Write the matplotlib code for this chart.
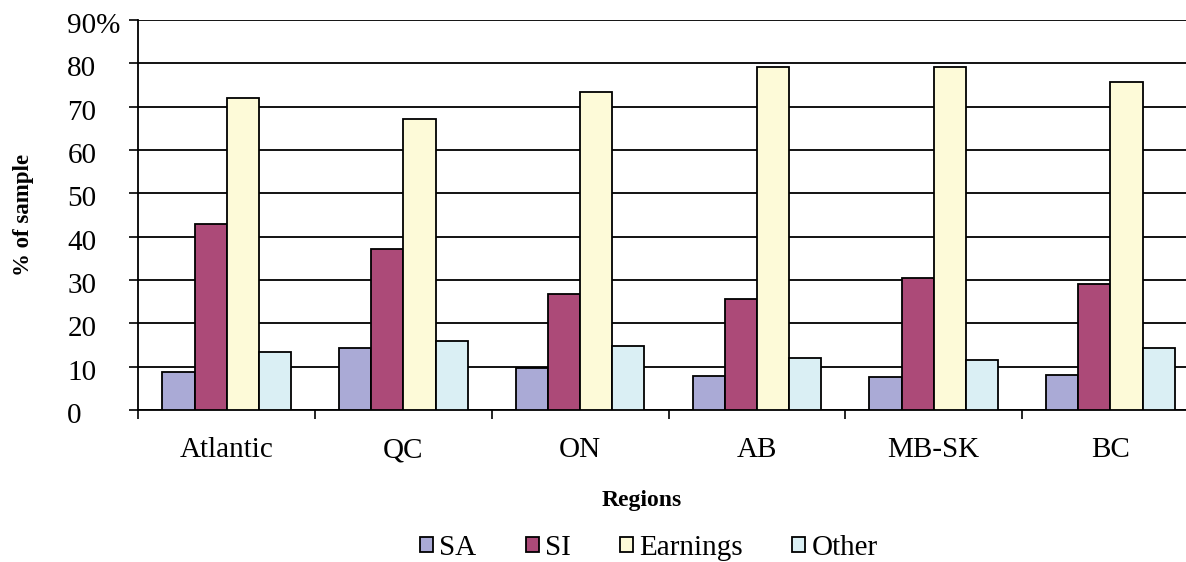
import numpy as np
import matplotlib
matplotlib.use('Agg')
import matplotlib.pyplot as plt
import matplotlib.transforms as mtransforms
from matplotlib.patches import Patch

plt.rcParams['font.family'] = ['Liberation Serif', 'DejaVu Serif']

regions = ['Atlantic', 'QC', 'ON', 'AB', 'MB-SK', 'BC']
series = ['SA', 'SI', 'Earnings', 'Other']
sa = [8.8, 14.2, 9.7, 7.9, 7.5, 8.0]
si = [43.0, 37.1, 26.8, 25.5, 30.4, 29.0]
earnings = [72.0, 67.2, 73.4, 79.2, 79.2, 75.7]
other = [13.3, 16.0, 14.8, 12.0, 11.5, 14.2]
colors = ['#AAAAD6', '#AC4A78', '#FDFAD8', '#DAEFF4']
ytick_labels = ['0', '10', '20', '30', '40', '50', '60', '70', '80', '90%']

fig = plt.figure(figsize=(11.86, 5.62), dpi=100)
ax = fig.add_axes([0.1166, 0.2705, 0.8942, 0.6940])

# excel-style grouping: 4 bars + 1.5 bar gap per category
w = 1 / 5.5
centers = np.arange(len(regions)) + 0.5
for j, vals in enumerate([sa, si, earnings, other]):
    ax.bar(centers + (j - 1.5) * w, vals, width=w, color=colors[j],
           edgecolor='black', linewidth=1.3, zorder=3)

ax.set_xlim(0, len(regions))
ax.set_ylim(0, 90)
ax.set_yticks(np.arange(0, 91, 10))
ax.set_yticklabels(ytick_labels, ha='left', fontsize=21)
ax.yaxis.grid(True, color='black', linewidth=1.3, zorder=0)
ax.tick_params(axis='y', direction='out', length=6.5, width=1.2, pad=44.6)

ax.set_xticks(np.arange(len(regions) + 1))
ax.set_xticklabels([])
ax.set_xticks(centers, minor=True)
# region names sit on a common baseline
ax.set_xticklabels(regions, minor=True, fontsize=21, va='baseline')
ax.tick_params(axis='x', which='major', direction='out', length=6.5, width=1.2)
ax.tick_params(axis='x', which='minor', length=0, pad=34)

for s in ['top', 'right']:
    ax.spines[s].set_visible(False)
for s in ['left', 'bottom']:
    ax.spines[s].set_linewidth(1.3)

# nudge y labels down a little
offset = mtransforms.ScaledTranslation(0, -3.0 / 100, fig.dpi_scale_trans)
for lbl in ax.get_yticklabels():
    lbl.set_transform(lbl.get_transform() + offset)

fig.text(0.0194, 0.6174, '% of sample', rotation=90, ha='center', va='center',
         fontsize=16.5, fontweight='bold')
fig.text(0.541, 0.0996, 'Regions', ha='center', va='baseline',
         fontsize=17, fontweight='bold')

handles = [Patch(facecolor=c, edgecolor='black', linewidth=1.3) for c in colors]
fig.legend(handles, series, loc='lower center', bbox_to_anchor=(0.547, 0.002),
           ncol=4, frameon=False, fontsize=21, handlelength=0.45,
           handleheight=0.45, handletextpad=0.2, columnspacing=1.7,
           borderaxespad=0, borderpad=0)

fig.savefig('out.png', dpi=100)
